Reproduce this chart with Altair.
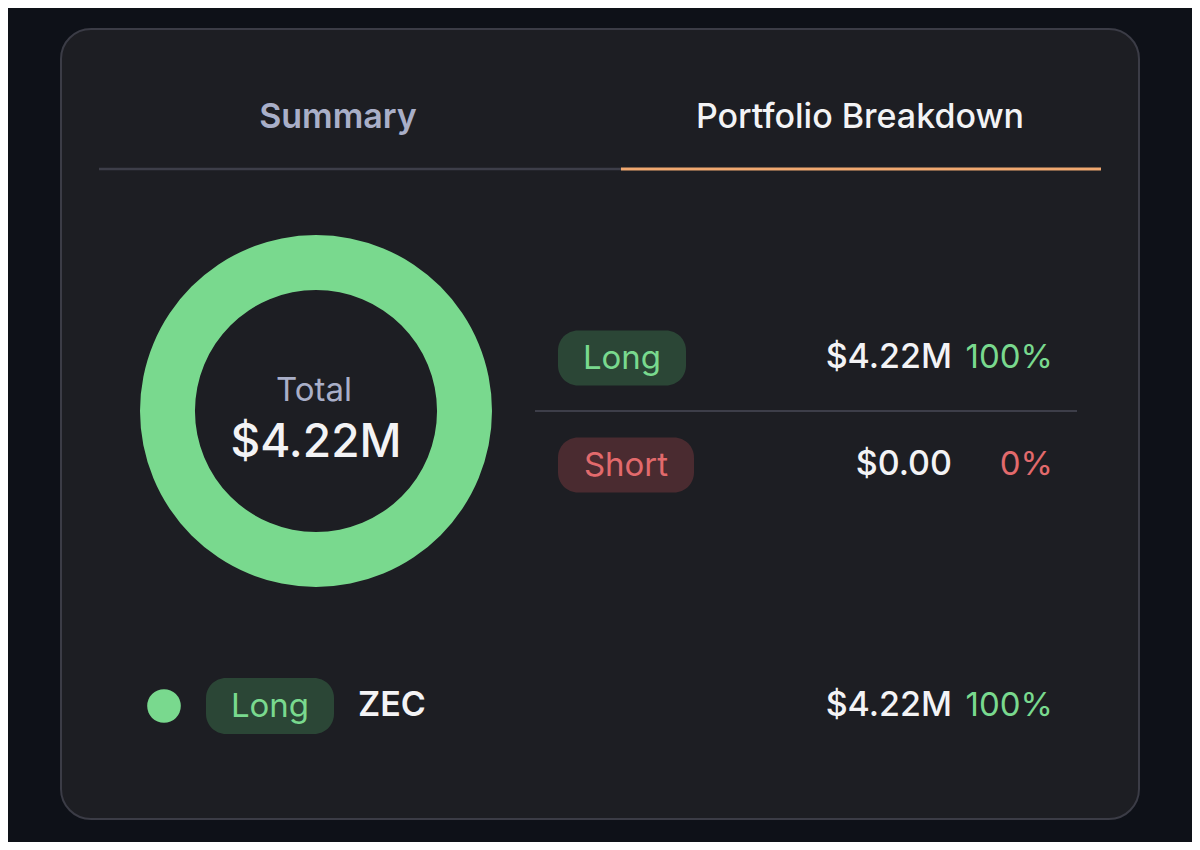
import altair as alt
import pandas as pd

# ---- data ----
tabs = ["Summary", "Portfolio Breakdown"]
sides = ["Long", "Short"]
side_amounts = [4.22e6, 0.0]
side_amount_labels = ["$4.22M", "$0.00"]
side_share_labels = ["100%", "0%"]
total_label = "$4.22M"
assets = ["ZEC"]
asset_sides = ["Long"]
asset_amount_labels = ["$4.22M"]
asset_share_labels = ["100%"]

# ---- style ----
W, H = 1184, 834
OFF = 8
FONT = "Inter"
BG = "#0e1118"
CARD = "#1d1e23"
BORDER = "#3b3c46"
GREEN = "#79d98e"
RED = "#e26a6c"
GREEN_BG = "#2b4636"
RED_BG = "#4a2b30"
WHITE = "#f3f3f5"
MUTED = "#a9afc8"
LINE = "#3d3e49"
ORANGE = "#f0a870"

def px(v):
    return v - OFF

one = pd.DataFrame({"k": [0]})

def box(x1, y1, x2, y2, fill, radius=0, stroke=None, sw=0):
    kw = dict(fill=fill, cornerRadius=radius)
    if stroke:
        kw.update(stroke=stroke, strokeWidth=sw)
    return alt.Chart(one).mark_rect(**kw).encode(
        x=alt.value(px(x1)), x2=alt.value(px(x2)),
        y=alt.value(px(y1)), y2=alt.value(px(y2)))

def hline(x1, x2, y, color, w):
    return alt.Chart(one).mark_rule(color=color, strokeWidth=w).encode(
        x=alt.value(px(x1)), x2=alt.value(px(x2)), y=alt.value(px(y)))

def label(text, x, y, color, size, align="center", weight=500):
    df = pd.DataFrame({"t": [text]})
    return alt.Chart(df).mark_text(
        font=FONT, fontSize=size, fontWeight=weight, color=color,
        align=align, baseline="middle").encode(
        x=alt.value(px(x)), y=alt.value(px(y)), text="t:N")

layers = []
# card
layers.append(box(61, 29, 1139, 819, CARD, 30, BORDER, 2))
# tabs
layers.append(label(tabs[0], 338, 118, MUTED, 34, weight=600))
layers.append(label(tabs[1], 860, 118, WHITE, 34, weight=500))
layers.append(hline(99, 621, 169, LINE, 2.5))
layers.append(hline(621, 1101, 169, ORANGE, 3))

# donut
donut_df = pd.DataFrame({"side": sides, "amount": side_amounts})
layers.append(alt.Chart(donut_df).mark_arc(innerRadius=121, outerRadius=176).encode(
    theta=alt.Theta("amount:Q", stack=True),
    color=alt.Color("side:N", scale=alt.Scale(domain=sides, range=[GREEN, RED]), legend=None),
    x=alt.value(px(316)), y=alt.value(px(411))))
layers.append(label("Total", 314, 391, MUTED, 33, weight=400))
layers.append(label(total_label, 316, 443, WHITE, 46, weight=500))

# side rows
row_y = [358, 465]
pill_w = [128, 136]
for i, s in enumerate(sides):
    y = row_y[i]
    fg = GREEN if s == "Long" else RED
    bg = GREEN_BG if s == "Long" else RED_BG
    layers.append(box(558, y - 27.5, 558 + pill_w[i], y + 27.5, bg, 20))
    layers.append(label(s, 558 + pill_w[i] / 2, y + 1, fg, 33, weight=400))
    layers.append(label(side_amount_labels[i], 952, y, WHITE, 34, align="right", weight=500))
    layers.append(label(side_share_labels[i], 1053, y, fg, 33, align="right", weight=400))
layers.append(hline(535, 1077, 411, LINE, 2))

# asset row
ay = 706
layers.append(alt.Chart(pd.DataFrame({"side": asset_sides})).mark_circle(size=1130, opacity=1).encode(
    x=alt.value(px(164)), y=alt.value(px(ay)),
    color=alt.Color("side:N", scale=alt.Scale(domain=sides, range=[GREEN, RED]), legend=None)))
layers.append(box(206, ay - 28, 334, ay + 28, GREEN_BG, 20))
layers.append(label(asset_sides[0], 270, ay + 1, GREEN, 33, weight=400))
layers.append(label(assets[0], 358, ay, WHITE, 34, align="left", weight=600))
layers.append(label(asset_amount_labels[0], 952, ay, WHITE, 34, align="right", weight=500))
layers.append(label(asset_share_labels[0], 1053, ay, GREEN, 33, align="right", weight=400))

chart = alt.layer(*layers).properties(
    width=W, height=H, background=BG, padding=0,
    autosize=alt.AutoSizeParams(type="none"),
).configure_view(stroke=None)

chart.save("out.html", embed_options={"renderer": "svg", "actions": False})
